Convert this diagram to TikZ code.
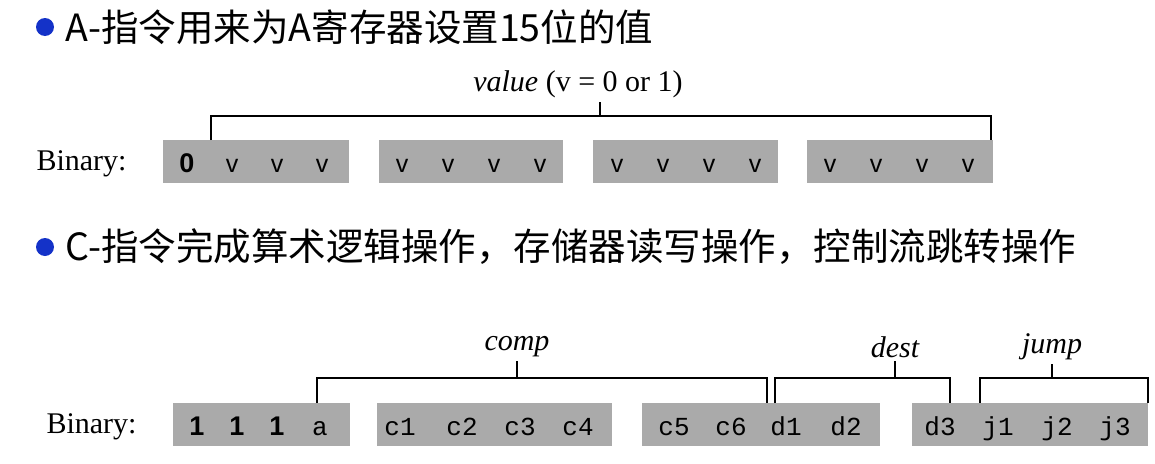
\documentclass[tikz,border=0pt]{standalone}
\usepackage{fontspec}
\setmainfont{Liberation Serif}
\newfontfamily\cjk{Noto Sans CJK SC}
\newfontfamily\sansf{Liberation Sans}
\newfontfamily\monof{Liberation Mono}
\definecolor{boxgray}{RGB}{170,170,170}
\definecolor{bulletblue}{RGB}{20,50,200}
\begin{document}
\begin{tikzpicture}[x=1pt,y=-1pt,
  bitbox/.style={fill=boxgray,draw=none},
  bitv/.style={font=\sansf\fontsize{25}{25}\selectfont,anchor=base},
  bitm/.style={font=\monof\fontsize{26}{26}\selectfont,anchor=base},
  bitb/.style={font=\sansf\bfseries\fontsize{27}{27}\selectfont,anchor=base},
  lbl/.style={font=\fontsize{30}{30}\selectfont},
  ilbl/.style={font=\itshape\fontsize{30}{30}\selectfont},
  title/.style={font=\cjk\fontsize{37.5}{37.5}\selectfont,anchor=west},
  brk/.style={line width=1.6pt},
  bullet/.style={circle,fill=bulletblue,inner sep=0pt,minimum size=18pt}]
\useasboundingbox (0,0) rectangle (1155,463);
% A instruction
\node[bullet] (b1) at (45,27) {};
\node[title] (t1) at (62,27) {A-指令用来为A寄存器设置15位的值};
\node[lbl] (v) at (578,84) {\itshape value\upshape{} (v = 0 or 1)};
\node[lbl,anchor=west] (bin1) at (33,164) {Binary:};
\foreach \a/\b/\n in {163/349/1,379/563/2,593/778/3,807/993/4}
  \fill[bitbox] (\a,140) rectangle (\b,183);
\node[bitb] (z) at (187,172) {0};
\foreach \x [count=\i] in {232,277,322,402,448,494,540,617,663,709,755,830,876,922,968}
  \node[bitv] (v\i) at (\x,172) {v};
\coordinate (al) at (211,140); \coordinate (ar) at (991,140);
\coordinate (ac) at (600,102);
\draw[brk] (al) |- (ac |- 0,116) -| (ar);
\draw[brk] (ac |- 0,116) -- (ac);
% C instruction
\node[bullet] (b2) at (45,247) {};
\node[title] (t2) at (62,247) {C-指令完成算术逻辑操作，存储器读写操作，控制流跳转操作};
\node[lbl,anchor=west] (bin2) at (43,427) {Binary:};
\foreach \a/\b in {173/350,377/612,642/880,912/1148}
  \fill[bitbox] (\a,403) rectangle (\b,446);
\node[bitb] (o1) at (197,435) {1};
\node[bitb] (o2) at (237,435) {1};
\node[bitb] (o3) at (277,435) {1};
\foreach \x/\t/\n in {320/a/ca,400/c1/c1,462/c2/c2,520/c3/c3,578/c4/c4,674/c5/c5,731/c6/c6,786/d1/d1,846/d2/d2,940/d3/d3,998/j1/j1,1057/j2/j2,1115/j3/j3}
  \node[bitm] (\n) at (\x,435) {\t};
\node[ilbl] (comp) at (517,347) {comp};
\node[ilbl] (dest) at (895,347) {dest};
\node[ilbl] (jump) at (1052,347) {jump};
\draw[brk] (317,403) |- (767,378) -- (767,403);
\draw[brk] (517,378) -- (comp.south);
\draw[brk] (775,403) |- (950,378) -- (950,403);
\draw[brk] (895,378) -- (dest.south);
\draw[brk,line width=2pt] (980,403) |- (1148,378) -- (1148,403);
\draw[brk] (1052,378) -- (jump.south);
\end{tikzpicture}
\end{document}
